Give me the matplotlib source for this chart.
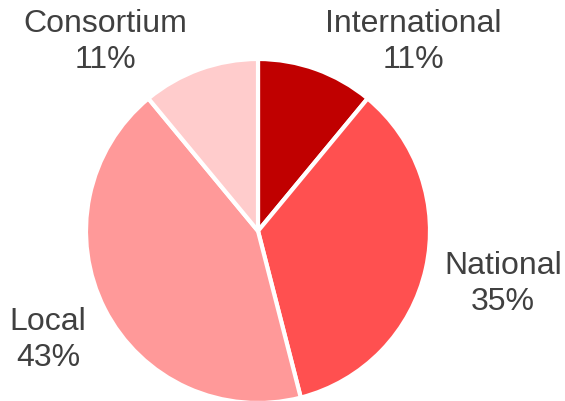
import matplotlib
matplotlib.use("Agg")
from matplotlib import pyplot as plt

categories = ["International", "National", "Local", "Consortium"]
shares = [11, 35, 43, 11]
colors = ["#C00000", "#FF5050", "#FF9999", "#FFCCCC"]
# label anchor points (pixels from top-left)
label_pos = [(413, 42), (503, 284), (48, 340), (105, 42)]

W, H = 565, 401
fig = plt.figure(figsize=(W / 100, H / 100), dpi=100)
ax = fig.add_axes([0, 0, 1, 1])

ax.pie(shares, colors=colors, startangle=90, counterclock=False,
       center=(258, H - 231), radius=172,
       wedgeprops=dict(edgecolor="white", linewidth=3))

# pie() resets the limits, so fix the pixel frame afterwards
ax.set_xlim(0, W)
ax.set_ylim(0, H)
ax.set_aspect("equal")
ax.axis("off")

for name, val, (x, y) in zip(categories, shares, label_pos):
    ax.text(x, H - y, f"{name}\n{val}%", ha="center", va="center",
            fontsize=23, color="#404040", family="Liberation Sans",
            linespacing=1.25)

fig.savefig("out.png", dpi=100)
